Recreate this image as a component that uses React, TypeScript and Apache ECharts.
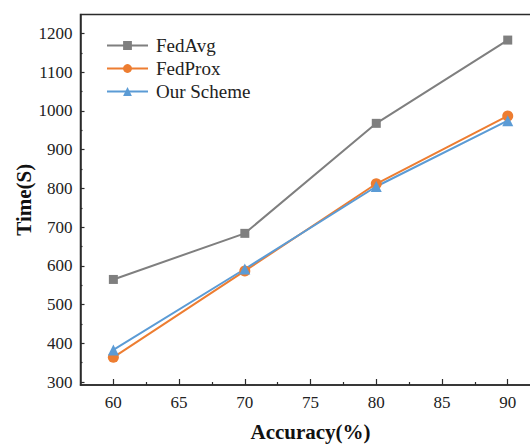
import React, { useEffect, useRef } from "react";
import * as echarts from "echarts";

const accuracy = [60, 70, 80, 90];
const fedAvg = [565, 684, 968, 1183];
const fedProx = [364, 587, 812, 987];
const ourScheme = [383, 592, 805, 975];
const yTicks = [300, 400, 500, 600, 700, 800, 900, 1000, 1100, 1200];
const yMinorTicks = [350, 450, 550, 650, 750, 850, 950, 1050, 1150];
const xTicks = [60, 65, 70, 75, 80, 85, 90];
const xMinorTicks = [62.5, 67.5, 72.5, 77.5, 82.5, 87.5];

const FONT = "Liberation Serif";
const AXIS = "#2b2b2b";

export default function App() {
  const ref = useRef<HTMLDivElement>(null);
  useEffect(() => {
    document.body.style.margin = "0";
    const chart = echarts.init(ref.current!, undefined, { renderer: "svg" });
    const mk = (arr: number[]) => accuracy.map((a, i) => [a, arr[i]]);
    const yBase = { type: "value", min: 292.5, max: 1249, position: "left", splitLine: { show: false } };
    const xBase = { type: "value", min: 57.5, max: 92.5, position: "bottom", splitLine: { show: false } };
    const labelStyle = {
      fontFamily: FONT, fontSize: 17, color: "#222",
      formatter: (v: number) => String(v),
    };
    chart.setOption({
      animation: false,
      backgroundColor: "#fff",
      textStyle: { fontFamily: FONT },
      grid: {
        left: 80.5, top: 14.5, right: -10.6, bottom: 59, show: true, borderColor: AXIS, borderWidth: 1.5,
        backgroundColor: "transparent", containLabel: false, outerBoundsMode: "none",
      },
      legend: {
        orient: "vertical",
        left: 101,
        top: 31,
        itemWidth: 41,
        itemHeight: 11,
        itemGap: 4,
        textStyle: { fontFamily: FONT, fontSize: 19, color: "#222", lineHeight: 19, padding: [0, 0, 0, 3] },
        data: ["FedAvg", "FedProx", "Our Scheme"],
      },
      xAxis: [
        {
          ...xBase,
          name: "Accuracy(%)",
          nameLocation: "middle",
          nameGap: 36,
          nameMoveOverlap: false,
          nameTextStyle: { fontFamily: FONT, fontSize: 21, fontWeight: "bold", color: "#111" },
          axisLine: { show: true, lineStyle: { color: AXIS, width: 1.5 } },
          axisTick: { show: true, inside: true, length: 6, customValues: xTicks, lineStyle: { color: AXIS, width: 1.2 } },
          axisLabel: { ...labelStyle, customValues: xTicks, margin: 9 },
        },
        {
          ...xBase,
          axisLine: { show: false },
          axisTick: { show: true, inside: true, length: 3, customValues: xMinorTicks, lineStyle: { color: AXIS, width: 1.2 } },
          axisLabel: { show: false },
        },
      ],
      yAxis: [
        {
          ...yBase,
          name: "Time(S)",
          nameLocation: "middle",
          nameGap: 46,
          nameMoveOverlap: false,
          nameTextStyle: { fontFamily: FONT, fontSize: 21, fontWeight: "bold", color: "#111" },
          axisLine: { show: true, lineStyle: { color: AXIS, width: 1.5 } },
          axisTick: { show: true, inside: true, length: 4, customValues: yTicks, lineStyle: { color: AXIS, width: 1.2 } },
          axisLabel: { ...labelStyle, customValues: yTicks, margin: 8 },
        },
        {
          ...yBase,
          axisLine: { show: false },
          axisTick: { show: true, inside: true, length: 2, customValues: yMinorTicks, lineStyle: { color: AXIS, width: 1.2 } },
          axisLabel: { show: false },
        },
      ],
      series: [
        {
          name: "FedAvg", type: "line", data: mk(fedAvg), symbol: "rect", symbolSize: 9,
          lineStyle: { color: "#7f7f7f", width: 2 }, itemStyle: { color: "#7f7f7f" },
        },
        {
          name: "FedProx", type: "line", data: mk(fedProx), symbol: "circle", symbolSize: 11,
          lineStyle: { color: "#ED7D31", width: 2 }, itemStyle: { color: "#ED7D31" },
        },
        {
          name: "Our Scheme", type: "line", data: mk(ourScheme), symbol: "triangle", symbolSize: 11,
          lineStyle: { color: "#5B9BD5", width: 2 }, itemStyle: { color: "#5B9BD5" },
        },
      ],
    });
    return () => chart.dispose();
  }, []);
  return <div ref={ref} style={{ width: 530, height: 444 }} />;
}
